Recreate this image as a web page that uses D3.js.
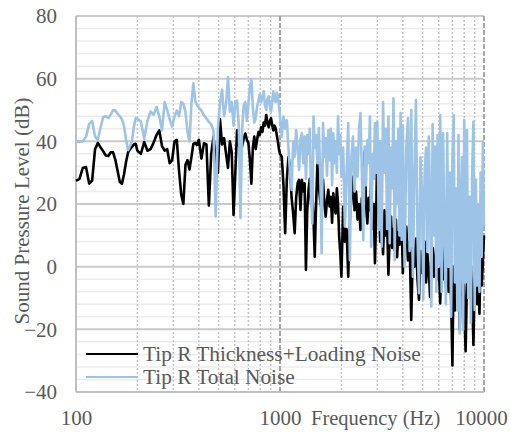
<!DOCTYPE html>
<html>
<head>
<meta charset="utf-8">
<script src="https://cdn.jsdelivr.net/npm/d3@7"></script>
<style>
  body { margin: 0; background: #fff; }
  svg { display: block; }
  text { font-family: "Liberation Serif", "Times New Roman", serif; fill: #595959; }
</style>
</head>
<body>
<svg id="chart" width="510" height="432"></svg>
<script>
// Spectrum sample frequencies (Hz)
const freqHz = [
  100,104,108,112,116,120,124,128,132,136,140,144,148,152,156,160,164,168,172,176,180,184,188,192,196,200,
  208,216,224,232,240,248,256,264,272,280,288,296,304,312,320,328,336,344,352,360,368,376,384,392,400,
  412,424,436,448,460,472,484,496,508,520,532,544,556,568,580,592,604,616,628,640,652,664,676,688,700,
  712,724,736,748,760,772,784,796,808,820,832,844,856,868,880,892,904,916,928,940,952,964,976,988,1000,
  1020,1040,1060,1080,1100,1120,1140,1160,1180,1200,1220,1240,1260,1280,1300,1320,1340,1360,1380,1400,1420,1440,1460,1480,1500,
  1525,1550,1575,1600,1625,1650,1675,1700,1725,1750,1775,1800,1825,1850,1875,1900,1925,1950,1975,2000,
  2040,2080,2120,2160,2200,2240,2280,2320,2360,2400,2440,2480,2520,2560,2600,2640,2680,2720,2760,2800,2840,2880,2920,2960,3000,
  3050,3100,3150,3200,3250,3300,3350,3400,3450,3500,3550,3600,3650,3700,3750,3800,3850,3900,3950,4000,
  4080,4160,4240,4320,4400,4480,4560,4640,4720,4800,4880,4960,5040,5120,5200,5280,5360,5440,5520,5600,5680,5760,5840,5920,6000,
  6100,6200,6300,6400,6500,6600,6700,6800,6900,7000,7100,7200,7300,7400,7500,7600,7700,7800,7900,8000,
  8125,8250,8375,8500,8625,8750,8875,9000,9125,9250,9375,9500,9625,9750,9875,10000
];

// Tip R thickness + loading noise (dB)
const thicknessLoadingDb = [
  27.4,28.0,31.5,31.8,26.5,27.5,37.5,39.5,38.0,36.8,35.5,35.3,36.5,36.5,34.0,30.5,27.0,26.5,29.5,33.5,36.5,37.5,38.2,39.0,39.2,37.0,
  36.0,39.8,37.0,37.5,39.5,42.0,43.5,38.5,37.0,37.5,33.0,34.0,40.0,40.5,30.5,23.0,20.0,32.5,34.0,31.0,35.0,39.2,39.5,38.8,40.5,
  34.5,39.4,39.0,19.5,36.0,41.5,34.0,30.0,47.0,39.0,41.0,36.0,31.5,40.0,36.5,16.5,30.0,43.5,39.0,36.0,38.5,41.0,42.5,40.5,39.5,
  34.0,26.5,38.0,41.5,37.5,40.5,43.0,42.0,44.5,43.0,46.0,45.0,48.4,46.0,44.5,46.5,47.4,45.0,43.5,45.0,44.2,42.0,40.0,37.5,36.0,
  35.1,26.0,10.7,27.7,35.0,31.9,22.0,17.0,10.7,22.0,26.6,27.7,18.1,27.7,24.0,26.6,-1.0,18.0,24.5,28.0,20.2,23.4,15.0,3.2,18.0,
  33.0,25.5,21.0,18.1,27.7,20.0,16.0,21.3,24.5,19.2,22.3,14.0,23.4,19.0,17.0,25.0,20.0,9.6,4.3,-3.2,
  19.2,8.0,12.0,-3.2,14.9,22.0,28.7,18.0,24.0,15.0,20.0,11.7,22.0,16.0,36.7,20.0,13.8,22.0,18.0,27.7,12.0,20.0,1.1,16.0,39.0,
  20.0,8.0,15.0,4.0,18.0,10.0,14.0,-2.6,10.0,16.0,6.0,12.0,5.3,15.0,3.0,11.0,7.0,9.6,14.0,-2.1,
  10.0,12.8,2.0,8.0,-17.0,6.0,0.0,9.0,-4.0,-10.6,5.0,-2.0,2.1,8.0,-5.0,4.0,-1.0,-9.6,3.0,6.0,-3.2,2.0,7.0,-4.0,1.0,
  -11.7,2.0,-4.0,6.0,-6.0,3.0,-8.0,4.0,-10.0,-31.5,0.0,-14.0,5.0,-6.0,2.0,-20.0,-2.0,-9.0,3.0,-12.0,
  -27.0,-5.0,2.0,-10.0,0.0,-8.0,-25.0,-4.0,1.0,-12.0,-2.0,-15.0,4.0,-6.0,2.0,10.0
];

// Tip R total noise (dB)
const totalNoiseDb = [
  39.9,39.9,40.0,41.5,45.5,46.5,41.5,40.5,44.5,47.8,48.0,47.5,48.5,50.0,49.8,48.8,48.0,47.0,45.0,40.5,37.2,38.5,40.0,44.5,47.4,47.2,
  46.3,40.8,46.5,49.5,48.5,51.0,48.0,43.5,52.5,50.0,47.0,44.7,48.0,49.8,48.0,52.5,52.0,49.5,43.0,40.0,52.0,58.5,53.0,51.5,50.8,
  49.8,48.3,47.3,46.2,45.4,43.5,16.0,44.0,52.0,56.5,48.0,52.0,60.5,49.5,52.5,45.0,52.5,53.0,45.0,15.5,44.0,51.5,52.5,46.5,52.0,
  57.0,59.8,51.0,46.0,47.5,51.0,53.0,55.0,52.5,54.0,56.0,51.5,50.0,53.5,54.3,51.0,49.5,53.0,55.9,53.0,52.5,55.5,54.5,51.5,48.0,
  41.5,47.9,44.0,46.8,38.0,30.0,24.5,40.0,35.0,43.6,38.0,30.9,40.5,42.6,33.0,41.5,28.0,42.0,36.0,44.0,22.0,13.8,47.9,38.0,42.0,
  33.0,44.2,30.0,4.3,45.8,35.0,41.0,29.0,43.6,34.0,44.0,26.0,42.6,33.0,40.0,30.0,47.9,36.0,42.0,28.7,
  38.0,12.8,30.0,45.8,2.1,35.0,41.5,24.0,38.0,28.7,44.0,49.0,30.0,8.5,38.3,26.0,40.4,33.0,47.9,6.4,36.0,28.0,45.8,30.0,46.3,
  11.7,40.0,6.4,52.5,30.0,44.0,12.0,47.9,7.5,38.0,25.0,53.7,2.1,40.0,20.0,44.0,10.0,49.0,8.5,45.0,
  0.0,38.0,47.4,5.0,50.0,-3.2,30.0,53.2,10.0,-8.5,35.0,25.0,-10.6,30.0,38.0,5.0,41.5,20.0,-12.8,45.5,10.0,38.3,-8.0,42.0,0.0,
  48.4,-8.0,42.6,10.0,-12.0,42.6,0.0,30.0,-16.0,35.0,48.4,-5.0,25.0,-14.0,42.0,-21.3,20.0,35.0,-20.2,46.8,
  -5.0,43.6,-10.0,22.3,-18.0,30.0,46.3,-13.8,27.7,-6.0,20.0,-8.0,30.0,3.2,40.0,12.8
];

const yTicks = [-40, -20, 0, 20, 40, 60, 80];
const xTicks = [100, 1000, 10000];
const seriesNames = ["Tip R Thickness+Loading Noise", "Tip R Total Noise"];
const seriesColors = ["#000000", "#9dc3e6"];

const svg = d3.select("#chart");
const plotLeft = 76, plotRight = 484, plotTop = 16, plotBottom = 392;
const fontSize = 21;
const lineWidth = 2.6;

const x = d3.scaleLog().domain([100, 10000]).range([plotLeft, plotRight]);
const y = d3.scaleLinear().domain([-40, 80]).range([plotBottom, plotTop]);

const grid = svg.append("g");

// minor horizontal grid every 4 dB
const minorY = d3.range(-40, 81, 4).filter(v => v % 20 !== 0);
grid.selectAll("line.minor-y").data(minorY).join("line")
  .attr("x1", plotLeft).attr("x2", plotRight)
  .attr("y1", d => y(d)).attr("y2", d => y(d))
  .attr("stroke", "#ececec").attr("stroke-width", 1.5);

// major horizontal grid
grid.selectAll("line.major-y").data(yTicks.filter(v => v > -40)).join("line")
  .attr("x1", plotLeft).attr("x2", plotRight)
  .attr("y1", d => y(d)).attr("y2", d => y(d))
  .attr("stroke", "#cacaca").attr("stroke-width", 2);

// minor vertical grid (dotted) at 2..9 of each decade
const minorX = [];
[100, 1000].forEach(dec => { for (let m = 2; m <= 9; m++) minorX.push(dec * m); });
grid.selectAll("line.minor-x").data(minorX).join("line")
  .attr("x1", d => x(d)).attr("x2", d => x(d))
  .attr("y1", plotTop).attr("y2", plotBottom)
  .attr("stroke", "#c4c4c4").attr("stroke-width", 1.5)
  .attr("stroke-dasharray", "2,2");

// major vertical grid (dashed) at 1000 and 10000
grid.selectAll("line.major-x").data([1000, 10000]).join("line")
  .attr("x1", d => x(d)).attr("x2", d => x(d))
  .attr("y1", plotTop).attr("y2", plotBottom)
  .attr("stroke", "#a6a6a6").attr("stroke-width", 2)
  .attr("stroke-dasharray", "5,2");

// axis lines
grid.append("line").attr("x1", plotLeft).attr("x2", plotLeft).attr("y1", plotTop).attr("y2", plotBottom)
  .attr("stroke", "#bfbfbf").attr("stroke-width", 2);
grid.append("line").attr("x1", plotLeft).attr("x2", plotRight).attr("y1", plotBottom).attr("y2", plotBottom)
  .attr("stroke", "#bfbfbf").attr("stroke-width", 2);

// series
const seriesData = [thicknessLoadingDb, totalNoiseDb];
const line = d3.line().x(d => x(d[0])).y(d => y(d[1]));
seriesData.forEach((vals, i) => {
  svg.append("path")
    .datum(freqHz.map((f, j) => [f, vals[j]]))
    .attr("d", line)
    .attr("fill", "none")
    .attr("stroke", seriesColors[i])
    .attr("stroke-width", lineWidth)
    .attr("stroke-linejoin", "round");
});

// axes labels
const yAxis = svg.append("g").attr("transform", `translate(${plotLeft},0)`)
  .call(d3.axisLeft(y).tickValues(yTicks).tickSize(0).tickPadding(19).tickFormat(d3.format("d")));
yAxis.select(".domain").remove();
yAxis.selectAll("text").attr("font-size", fontSize).attr("font-family", null).style("fill", "#595959");

const xAxis = svg.append("g").attr("transform", `translate(0,${plotBottom})`)
  .call(d3.axisBottom(x).tickValues(xTicks).tickSize(0).tickPadding(18).tickFormat(d3.format("d")));
xAxis.select(".domain").remove();
xAxis.selectAll("text").attr("font-size", fontSize).attr("font-family", null).style("fill", "#595959")
  .attr("dx", d => d === 10000 ? -3 : 0);

svg.append("text").attr("x", 311).attr("y", 425).attr("font-size", 20.5)
  .text("Frequency (Hz)");

svg.append("text")
  .attr("transform", "translate(22,211) rotate(-90)")
  .attr("text-anchor", "middle").attr("dominant-baseline", "central")
  .attr("font-size", fontSize)
  .text("Sound Pressure Level (dB)");

// legend
const legend = svg.append("g");
seriesNames.forEach((name, i) => {
  const ly = 354 + i * 23;
  legend.append("line").attr("x1", 86).attr("x2", 138).attr("y1", ly).attr("y2", ly)
    .attr("stroke", seriesColors[i]).attr("stroke-width", 2.2);
  legend.append("text").attr("x", 143).attr("y", ly).attr("dominant-baseline", "central")
    .attr("font-size", 21.3).text(name);
});
</script>
</body>
</html>
